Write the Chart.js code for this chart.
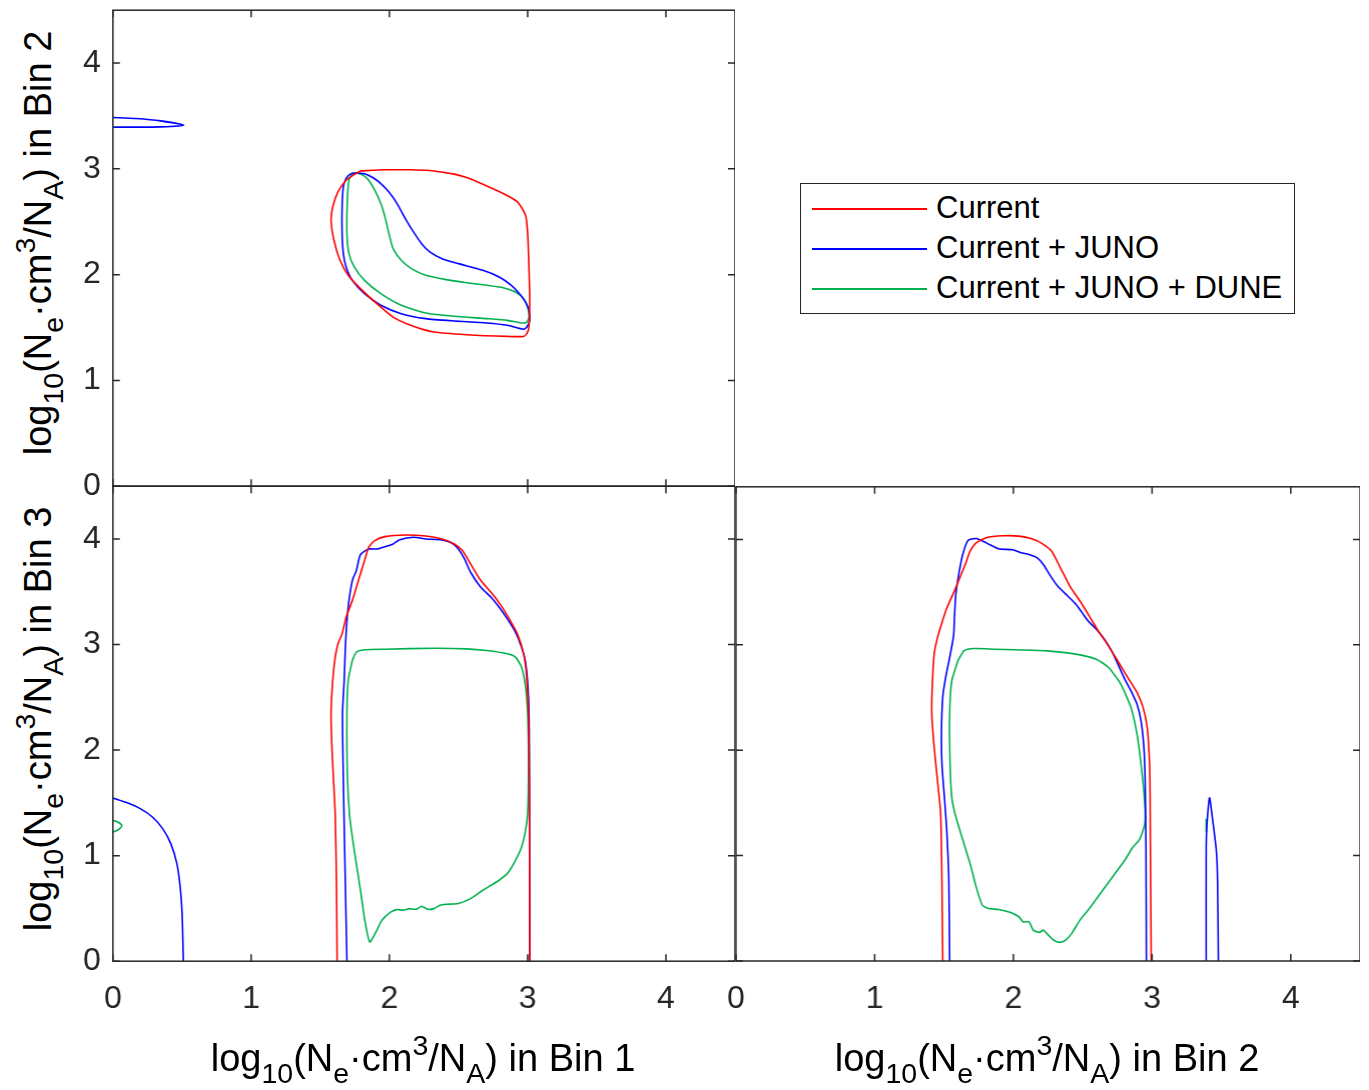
<!DOCTYPE html>
<html>
<head>
<meta charset="utf-8">
<script src="https://cdn.jsdelivr.net/npm/chart.js@4.4.1/dist/chart.umd.min.js"></script>
<style>
body { margin: 0; background: #fff; width: 1369px; height: 1090px; position: relative; overflow: hidden;
       font-family: "Liberation Sans", Arial, sans-serif; }
canvas { position: absolute; }
.title { position: absolute; font-size: 38px; color: #000; white-space: nowrap; line-height: 1; }
.title sub, .title sup { font-size: 0.75em; line-height: 0; }
.title sub { vertical-align: -0.42em; }
.title sup { vertical-align: 0.55em; }
.ytitle { transform: translate(-50%, -50%) rotate(-90deg); }
.xtitle { transform: translate(-50%, -50%); }
#legend { position: absolute; left: 800px; top: 183px; width: 495px; height: 131px; box-sizing: border-box;
          border: 1.5px solid #262626; background: #fff; font-size: 31px; color: #000; }
#legend .row { position: absolute; left: 0; height: 40px; width: 100%; }
#legend .swatch { position: absolute; left: 11px; top: 19px; width: 115px; height: 2px; }
#legend .label { position: absolute; left: 135px; top: 2px; line-height: 34px; white-space: nowrap; }
</style>
</head>
<body>
<canvas id="panelTop" width="740" height="490" style="left:0px;top:0px"></canvas>
<canvas id="panelBottomLeft" width="740" height="545" style="left:0px;top:476px"></canvas>
<canvas id="panelBottomRight" width="639" height="545" style="left:726px;top:476px"></canvas>

<div class="title ytitle" style="left:38px;top:243px">log<sub>10</sub>(N<sub>e</sub>&middot;cm<sup>3</sup>/N<sub>A</sub>) in Bin 2</div>
<div class="title ytitle" style="left:38px;top:719px">log<sub>10</sub>(N<sub>e</sub>&middot;cm<sup>3</sup>/N<sub>A</sub>) in Bin 3</div>
<div class="title xtitle" style="left:423px;top:1058px">log<sub>10</sub>(N<sub>e</sub>&middot;cm<sup>3</sup>/N<sub>A</sub>) in Bin 1</div>
<div class="title xtitle" style="left:1047px;top:1058px">log<sub>10</sub>(N<sub>e</sub>&middot;cm<sup>3</sup>/N<sub>A</sub>) in Bin 2</div>
<div id="legend"></div>

<script>
// series names and colours
var seriesNames = ['Current', 'Current + JUNO', 'Current + JUNO + DUNE'];
var seriesColors = ['#ff0000', '#0000ff', '#00b04f'];
var tickValues = [0, 1, 2, 3, 4];

// ---- Bin 1 (x) vs Bin 2 (y) ----
var currentBin12 = [[1.791,2.981],[1.968,2.991],[2.145,2.991],[2.292,2.984],[2.469,2.950],[2.558,2.918],[2.676,2.855],
  [2.823,2.767],[2.926,2.688],[2.985,2.562],[3.000,2.388],[3.009,2.073],[3.015,1.757],[3.009,1.505],[2.994,1.442],
  [2.971,1.416],[2.853,1.416],[2.558,1.432],[2.322,1.457],[2.174,1.511],[2.027,1.599],[1.909,1.726],[1.791,1.868],
  [1.702,1.994],[1.643,2.136],[1.599,2.325],[1.578,2.514],[1.590,2.640],[1.628,2.782],[1.687,2.893],[1.746,2.946],[1.791,2.981]];
var junoBin12 = [[1.761,2.962],[1.717,2.950],[1.687,2.909],[1.667,2.830],[1.658,2.640],[1.658,2.388],[1.667,2.199],
  [1.687,2.073],[1.732,1.946],[1.820,1.820],[1.938,1.710],[2.086,1.631],[2.263,1.584],[2.469,1.562],[2.705,1.543],
  [2.853,1.521],[2.971,1.483],[2.994,1.505],[3.015,1.568],[3.009,1.662],[2.985,1.741],[2.941,1.820],[2.882,1.899],
  [2.794,1.978],[2.676,2.041],[2.499,2.104],[2.381,2.151],[2.292,2.215],[2.233,2.293],[2.174,2.404],[2.115,2.530],
  [2.056,2.672],[1.997,2.782],[1.938,2.861],[1.879,2.918],[1.820,2.953],[1.761,2.962]];
var junoSpikeBin12 = [[0,3.486],[0.168,3.476],[0.345,3.454],[0.513,3.413],[0.345,3.397],[0,3.394]];
var duneBin12 = [[1.761,2.962],[1.732,2.956],[1.708,2.893],[1.696,2.703],[1.693,2.388],[1.708,2.199],[1.746,2.073],
  [1.820,1.946],[1.938,1.820],[2.086,1.710],[2.263,1.637],[2.469,1.606],[2.705,1.584],[2.853,1.568],[2.956,1.543],
  [2.994,1.552],[3.009,1.599],[3.000,1.694],[2.971,1.773],[2.912,1.836],[2.823,1.877],[2.705,1.899],[2.558,1.924],
  [2.410,1.953],[2.263,1.994],[2.159,2.057],[2.086,2.136],[2.027,2.246],[1.997,2.388],[1.968,2.546],[1.938,2.672],
  [1.894,2.798],[1.850,2.893],[1.805,2.943],[1.761,2.962]];
var duneSpikeBin12 = [[0,3.394],[0.065,3.394]];

// ---- Bin 1 (x) vs Bin 3 (y) ----
var currentBin13 = [[1.622,0],[1.617,0.767],[1.608,1.397],[1.596,1.713],[1.584,2.028],[1.578,2.344],[1.590,2.659],
  [1.608,2.880],[1.628,3.006],[1.658,3.101],[1.687,3.259],[1.732,3.416],[1.776,3.606],[1.820,3.795],[1.850,3.921],
  [1.894,3.984],[1.968,4.022],[2.115,4.038],[2.263,4.028],[2.381,4.000],[2.469,3.953],[2.528,3.890],[2.587,3.763],
  [2.661,3.606],[2.735,3.495],[2.808,3.369],[2.867,3.243],[2.926,3.101],[2.971,2.912],[2.991,2.722],[3.006,2.344],
  [3.012,1.713],[3.015,0]];
var junoBin13 = [[1.693,0],[1.681,0.767],[1.667,1.713],[1.661,2.344],[1.673,2.659],[1.684,3.038],[1.702,3.353],
  [1.732,3.606],[1.761,3.700],[1.791,3.852],[1.850,3.905],[1.909,3.905],[1.968,3.927],[2.027,3.953],[2.071,3.991],
  [2.174,4.016],[2.263,4.000],[2.381,3.991],[2.454,3.959],[2.499,3.905],[2.543,3.811],[2.587,3.685],[2.661,3.543],
  [2.735,3.448],[2.794,3.353],[2.853,3.243],[2.912,3.117],[2.956,2.975],[2.985,2.833],[3.006,2.502],[3.012,2.028],
  [3.015,0]];
var junoArcBin13 = [[0,1.546],[0.109,1.498],[0.198,1.445],[0.286,1.366],[0.360,1.256],[0.419,1.114],[0.463,0.924],
  [0.487,0.703],[0.501,0.451],[0.510,0]];
var duneBin13 = [[1.732,2.849],[1.761,2.927],[1.820,2.950],[1.968,2.956],[2.322,2.965],[2.558,2.959],[2.705,2.943],
  [2.853,2.912],[2.912,2.880],[2.956,2.785],[2.985,2.596],[3.000,2.344],[3.006,1.871],[3.000,1.397],[2.985,1.240],
  [2.956,1.082],[2.912,0.956],[2.853,0.830],[2.794,0.767],[2.735,0.719],[2.676,0.672],[2.587,0.593],[2.499,0.546],
  [2.410,0.539],[2.366,0.530],[2.322,0.498],[2.277,0.492],[2.233,0.521],[2.204,0.498],[2.174,0.492],[2.145,0.498],
  [2.100,0.483],[2.056,0.489],[2.012,0.467],[1.968,0.420],[1.938,0.372],[1.909,0.293],[1.858,0.183],[1.820,0.404],
  [1.791,0.672],[1.761,0.924],[1.732,1.177],[1.711,1.397],[1.696,1.776],[1.693,2.344],[1.702,2.659],[1.732,2.849]];
var duneLoopBin13 = [[0,1.334],[0.035,1.319],[0.065,1.287],[0.050,1.256],[0.021,1.233],[0,1.224]];

// ---- Bin 2 (x) vs Bin 3 (y) ----
var currentBin23 = [[1.491,0],[1.485,0.767],[1.476,1.397],[1.453,1.713],[1.429,2.028],[1.412,2.344],[1.415,2.596],
  [1.429,2.912],[1.453,3.069],[1.482,3.196],[1.517,3.338],[1.564,3.479],[1.614,3.637],[1.658,3.779],[1.688,3.890],
  [1.732,3.968],[1.805,4.016],[1.923,4.035],[2.040,4.032],[2.128,4.009],[2.210,3.959],[2.275,3.890],[2.333,3.748],
  [2.407,3.558],[2.480,3.416],[2.554,3.259],[2.612,3.132],[2.686,2.991],[2.759,2.833],[2.832,2.675],[2.891,2.549],
  [2.935,2.407],[2.965,2.218],[2.979,1.965],[2.985,1.713],[2.988,1.082],[2.994,0]];
var junoBin23 = [[1.541,0],[1.535,0.767],[1.520,1.240],[1.503,1.555],[1.485,1.871],[1.482,2.186],[1.491,2.502],
  [1.512,2.691],[1.541,2.880],[1.559,3.006],[1.570,3.101],[1.576,3.290],[1.585,3.479],[1.606,3.669],[1.635,3.858],
  [1.673,3.991],[1.732,4.009],[1.805,3.968],[1.893,3.912],[1.996,3.902],[2.055,3.874],[2.113,3.858],[2.172,3.826],
  [2.216,3.763],[2.260,3.669],[2.319,3.558],[2.392,3.464],[2.451,3.385],[2.495,3.306],[2.539,3.227],[2.598,3.148],
  [2.656,3.054],[2.715,2.927],[2.759,2.801],[2.803,2.675],[2.847,2.565],[2.891,2.438],[2.920,2.281],[2.941,2.028],
  [2.950,1.713],[2.956,1.082],[2.959,0]];
var junoSpikeBin23 = [[3.390,0],[3.390,1.082],[3.396,1.303],[3.414,1.549],[3.434,1.366],[3.463,1.050],[3.472,0.767],[3.478,0]];
var duneBin23 = [[1.600,2.849],[1.644,2.943],[1.717,2.965],[1.864,2.959],[2.011,2.953],[2.245,2.943],[2.451,2.912],
  [2.598,2.864],[2.686,2.785],[2.774,2.628],[2.847,2.407],[2.891,2.155],[2.920,1.871],[2.944,1.555],[2.950,1.334],
  [2.935,1.240],[2.906,1.145],[2.862,1.082],[2.803,0.956],[2.715,0.798],[2.627,0.640],[2.539,0.483],[2.480,0.388],
  [2.421,0.262],[2.377,0.199],[2.333,0.177],[2.289,0.199],[2.240,0.262],[2.216,0.293],[2.187,0.271],[2.143,0.293],
  [2.113,0.372],[2.069,0.372],[2.040,0.420],[1.981,0.461],[1.893,0.489],[1.820,0.498],[1.776,0.530],[1.732,0.703],
  [1.688,0.924],[1.629,1.177],[1.579,1.397],[1.556,1.555],[1.544,1.871],[1.541,2.344],[1.556,2.659],[1.600,2.849]];
var duneSpikeBin23 = [[3.390,1.350],[3.390,1.224]];

Chart.defaults.font.family = '"Liberation Sans", Arial, Helvetica, sans-serif';
Chart.defaults.color = '#262626';

// box with inward ticks on all four sides, like the original figure
var framePlugin = {
    id: 'frame',
    afterDraw: function (chart) {
        var ctx = chart.ctx;
        var a = chart.chartArea;
        var xs = chart.scales.x, ys = chart.scales.y;
        ctx.save();
        ctx.strokeStyle = '#262626';
        ctx.lineWidth = 1.5;
        ctx.strokeRect(a.left, a.top, a.right - a.left, a.bottom - a.top);
        ctx.beginPath();
        tickValues.forEach(function (v) {
            var px = xs.getPixelForValue(v);
            var py = ys.getPixelForValue(v);
            ctx.moveTo(px, a.bottom); ctx.lineTo(px, a.bottom - 7);
            ctx.moveTo(px, a.top); ctx.lineTo(px, a.top + 7);
            ctx.moveTo(a.left, py); ctx.lineTo(a.left + 7, py);
            ctx.moveTo(a.right, py); ctx.lineTo(a.right - 7, py);
        });
        ctx.stroke();
        ctx.restore();
    }
};

function toPoints(arr) {
    return arr.map(function (p) { return { x: p[0], y: p[1] }; });
}

function line(arr, seriesIndex) {
    return {
        label: seriesNames[seriesIndex],
        data: toPoints(arr),
        showLine: true,
        borderColor: seriesColors[seriesIndex],
        borderWidth: 1.6,
        pointRadius: 0,
        tension: 0.2,
        fill: false
    };
}

function makePanel(id, datasets, showX, showY) {
    var ctx = document.getElementById(id).getContext('2d');
    return new Chart(ctx, {
        type: 'scatter',
        data: { datasets: datasets },
        options: {
            responsive: false,
            maintainAspectRatio: false,
            animation: false,
            events: [],
            plugins: { legend: { display: false }, tooltip: { enabled: false } },
            scales: {
                x: {
                    type: 'linear', min: 0, max: 4.5,
                    grid: { display: false, drawTicks: false },
                    border: { display: false },
                    ticks: { display: showX, stepSize: 1, includeBounds: false, padding: 19, color: '#262626',
                             font: { size: 32 } }
                },
                y: {
                    type: 'linear', min: 0, max: 4.5,
                    grid: { display: false, drawTicks: false },
                    border: { display: false },
                    ticks: { display: showY, stepSize: 1, includeBounds: false, padding: 12, color: '#262626',
                             font: { size: 32 } }
                }
            }
        },
        plugins: [framePlugin]
    });
}

// move and resize a canvas so its plot box lands on the wanted page rectangle
function placePanel(chart, box) {
    var a = chart.chartArea;
    var padL = a.left, padT = a.top;
    var padR = chart.width - a.right, padB = chart.height - a.bottom;
    chart.canvas.style.left = (box.left - padL) + 'px';
    chart.canvas.style.top = (box.top - padT) + 'px';
    chart.resize(box.right - box.left + padL + padR, box.bottom - box.top + padT + padB);
}

var topChart = makePanel('panelTop', [
    line(currentBin12, 0), line(junoBin12, 1), line(junoSpikeBin12, 1),
    line(duneBin12, 2), line(duneSpikeBin12, 2)
], false, true);
placePanel(topChart, { left: 113, top: 10, right: 735, bottom: 486 });

var bottomLeftChart = makePanel('panelBottomLeft', [
    line(currentBin13, 0), line(junoBin13, 1), line(junoArcBin13, 1),
    line(duneBin13, 2), line(duneLoopBin13, 2)
], true, true);
placePanel(bottomLeftChart, { left: 113, top: 486, right: 735, bottom: 961 });

var bottomRightChart = makePanel('panelBottomRight', [
    line(currentBin23, 0), line(junoBin23, 1), line(junoSpikeBin23, 1),
    line(duneBin23, 2), line(duneSpikeBin23, 2)
], true, false);
placePanel(bottomRightChart, { left: 736, top: 486, right: 1360, bottom: 961 });

// legend in the empty upper-right corner
var legendBox = document.getElementById('legend');
seriesNames.forEach(function (name, i) {
    var row = document.createElement('div');
    row.className = 'row';
    row.style.top = (5 + i * 40) + 'px';
    row.innerHTML = '<div class="swatch" style="background:' + seriesColors[i] + '"></div>' +
                    '<div class="label">' + name + '</div>';
    legendBox.appendChild(row);
});
</script>
</body>
</html>
